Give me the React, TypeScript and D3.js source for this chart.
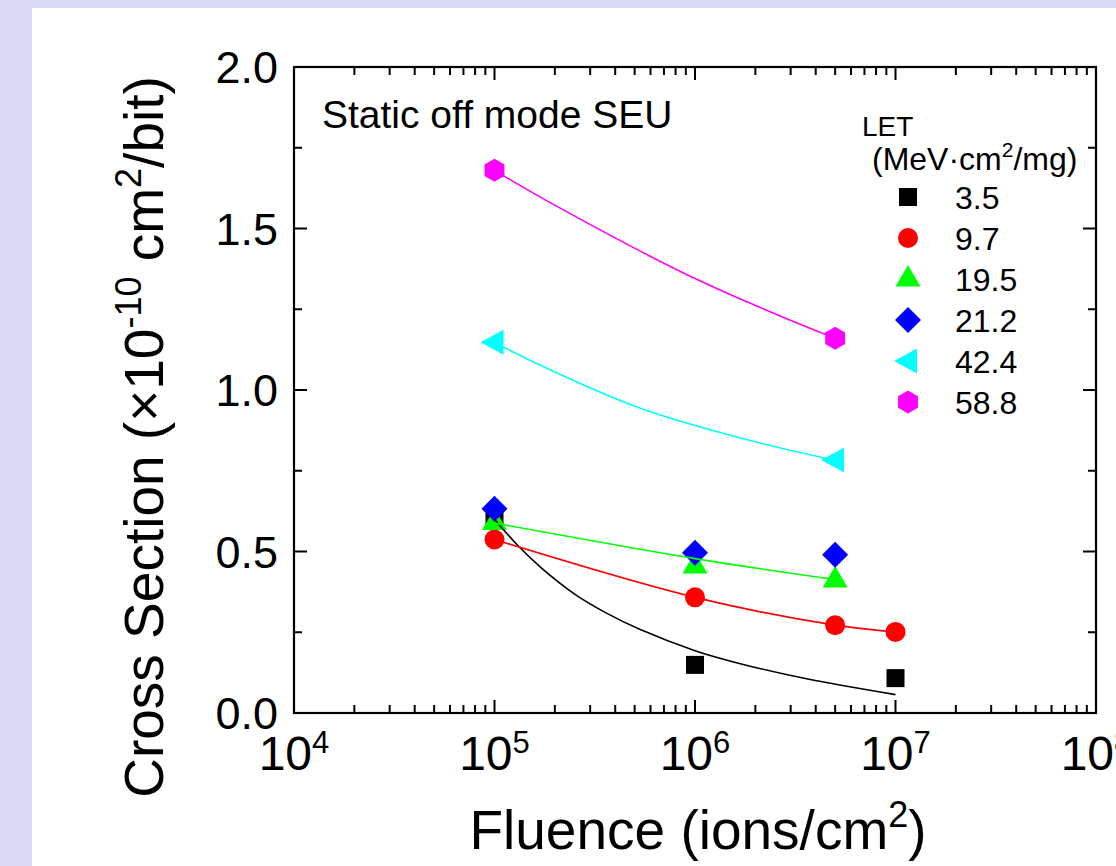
import React from "react";
import * as d3 from "d3";

const W = 1116;
const H = 866;
const FONT = "'Liberation Sans', Arial, Helvetica, sans-serif";

// ---- axis ticks ----
const xDomain = [1e4, 1e8];
const yDomain = [0, 2.0];
const xMajorTicks = [1e4, 1e5, 1e6, 1e7, 1e8];
const xTickExponents = ["4", "5", "6", "7", "8"];
const yMajorTicks = [0, 0.5, 1.0, 1.5, 2.0];
const yMinorTicks = [0.25, 0.75, 1.25, 1.75];

// ---- series ----
const letLabels = ["3.5", "9.7", "19.5", "21.2", "42.4", "58.8"];
const seriesColors = ["#000000", "#ff0000", "#00ff00", "#0000ff", "#00ffff", "#ff00ff"];
const seriesShapes = ["square", "circle", "triangle", "diamond", "triangleLeft", "hexagon"];

const fluence35 = [1e5, 1e6, 1e7];
const cs35 = [0.598, 0.149, 0.108];
const fluence97 = [1e5, 1e6, 5e6, 1e7];
const cs97 = [0.537, 0.358, 0.272, 0.251];
const fluence195 = [1e5, 1e6, 5e6];
const cs195 = [0.59, 0.455, 0.412];
const fluence212 = [1e5, 1e6, 5e6];
const cs212 = [0.632, 0.496, 0.49];
const fluence424 = [1e5, 5e6];
const cs424 = [1.148, 0.783];
const fluence588 = [1e5, 5e6];
const cs588 = [1.68, 1.16];

// ---- fitted curves ----
const fit35X = [1e5, 1.3e5, 1.7e5, 2.5e5, 3.6e5, 5.3e5, 1e6, 1.7e6, 3.6e6, 1e7];
const fit35Y = [0.6, 0.52, 0.451, 0.369, 0.31, 0.259, 0.193, 0.152, 0.106, 0.057];
const fit97X = [1e5, 1e6, 5e6, 1e7];
const fit97Y = [0.537, 0.358, 0.272, 0.251];
const fit195X = [1e5, 1e6, 5e6];
const fit195Y = [0.588, 0.478, 0.413];
const fit424X = [1e5, 1.5e5, 5.3e5, 1.67e6, 5e6];
const fit424Y = [1.148, 1.092, 0.944, 0.852, 0.782];
const fit588X = [1e5, 1.8e5, 1e6, 5e6];
const fit588Y = [1.68, 1.588, 1.345, 1.16];

const seriesX = [fluence35, fluence97, fluence195, fluence212, fluence424, fluence588];
const seriesY = [cs35, cs97, cs195, cs212, cs424, cs588];
const fitsX = [fit35X, fit97X, fit195X, null, fit424X, fit588X];
const fitsY = [fit35Y, fit97Y, fit195Y, null, fit424Y, fit588Y];

// ---- layout ----
const PL = 294;
const PR = 1096;
const PT = 67;
const PB = 713;

function markerPath(shape: string, cx: number, cy: number): string {
  const p = d3.path();
  if (shape === "square") {
    p.rect(cx - 9, cy - 9, 18, 18);
  } else if (shape === "circle") {
    p.arc(cx, cy, 10, 0, Math.PI * 2);
  } else if (shape === "triangle") {
    p.moveTo(cx, cy - 14);
    p.lineTo(cx + 12.5, cy + 7.5);
    p.lineTo(cx - 12.5, cy + 7.5);
    p.closePath();
  } else if (shape === "diamond") {
    p.moveTo(cx, cy - 13);
    p.lineTo(cx + 13, cy);
    p.lineTo(cx, cy + 13);
    p.lineTo(cx - 13, cy);
    p.closePath();
  } else if (shape === "triangleLeft") {
    p.moveTo(cx - 14, cy);
    p.lineTo(cx + 9, cy - 12.5);
    p.lineTo(cx + 9, cy + 12.5);
    p.closePath();
  } else if (shape === "hexagon") {
    const r = 11.5;
    for (let k = 0; k < 6; k++) {
      const a = -Math.PI / 2 + (k * Math.PI) / 3;
      const px = cx + r * Math.cos(a);
      const py = cy + r * Math.sin(a);
      if (k === 0) p.moveTo(px, py);
      else p.lineTo(px, py);
    }
    p.closePath();
  }
  return p.toString();
}

export default function App() {
  const x = d3.scaleLog().domain(xDomain).range([PL, PR]);
  const y = d3.scaleLinear().domain(yDomain).range([PB, PT]);
  const allXTicks = x.ticks();
  const xMinor = allXTicks.filter((t) => !xMajorTicks.some((m) => Math.abs(m - t) / m < 1e-9));
  const fmt = d3.format(".1f");

  const line = d3
    .line<[number, number]>()
    .x((d) => x(d[0]))
    .y((d) => y(d[1]))
    .curve(d3.curveCatmullRom.alpha(0.5));

  const MAJ = 13;
  const MIN = 8;
  const axisColor = "#000";

  return (
    <div style={{ position: "absolute", left: 0, top: 0 }}>
      <svg width={W} height={H} style={{ display: "block" }}>
        <rect x={0} y={0} width={W} height={H} fill="#d8d8f3" />
        <rect x={32} y={8} width={W - 32} height={H - 8} fill="#ffffff" />

        {/* ticks */}
        <g stroke={axisColor} strokeWidth={2}>
          {xMajorTicks.map((t, i) => (
            <g key={"xM" + i}>
              <line x1={x(t)} x2={x(t)} y1={PB} y2={PB - MAJ} />
              <line x1={x(t)} x2={x(t)} y1={PT} y2={PT + MAJ} />
            </g>
          ))}
          {xMinor.map((t, i) => (
            <g key={"xm" + i}>
              <line x1={x(t)} x2={x(t)} y1={PB} y2={PB - MIN} />
              <line x1={x(t)} x2={x(t)} y1={PT} y2={PT + MIN} />
            </g>
          ))}
          {yMajorTicks.map((t, i) => (
            <g key={"yM" + i}>
              <line x1={PL} x2={PL + MAJ} y1={y(t)} y2={y(t)} />
              <line x1={PR} x2={PR - MAJ} y1={y(t)} y2={y(t)} />
            </g>
          ))}
          {yMinorTicks.map((t, i) => (
            <g key={"ym" + i}>
              <line x1={PL} x2={PL + MIN} y1={y(t)} y2={y(t)} />
              <line x1={PR} x2={PR - MIN} y1={y(t)} y2={y(t)} />
            </g>
          ))}
        </g>

        {/* frame */}
        <rect
          x={PL}
          y={PT}
          width={PR - PL}
          height={PB - PT}
          fill="none"
          stroke={axisColor}
          strokeWidth={2.2}
        />

        {/* y tick labels */}
        {yMajorTicks.map((t, i) => (
          <text
            key={"yl" + i}
            x={PL - 16}
            y={y(t) + 16}
            textAnchor="end"
            fontFamily={FONT}
            fontSize={45}
            fill="#000"
          >
            {fmt(t)}
          </text>
        ))}

        {/* x tick labels */}
        {xMajorTicks.map((t, i) => (
          <text
            key={"xl" + i}
            x={x(t)}
            y={770}
            textAnchor="middle"
            fontFamily={FONT}
            fontSize={48}
            fill="#000"
          >
            10
            <tspan fontSize={31} dy={-17}>
              {xTickExponents[i]}
            </tspan>
          </text>
        ))}

        {/* axis titles */}
        <text
          x={698}
          y={849}
          textAnchor="middle"
          fontFamily={FONT}
          fontSize={55}
          fill="#000"
        >
          Fluence (ions/cm
          <tspan fontSize={36} dy={-22}>2</tspan>
          <tspan dy={22}>)</tspan>
        </text>
        <text
          transform={`translate(163, 437) rotate(-90)`}
          textAnchor="middle"
          fontFamily={FONT}
          fontSize={55}
          fill="#000"
        >
          Cross Section (×10
          <tspan fontSize={36} dy={-22}>-10</tspan>
          <tspan dy={22}> cm</tspan>
          <tspan fontSize={36} dy={-22}>2</tspan>
          <tspan dy={22}>/bit)</tspan>
        </text>

        {/* annotation */}
        <text x={322} y={128} fontFamily={FONT} fontSize={39} fill="#000">
          Static off mode SEU
        </text>

        {/* markers */}
        {seriesX.map((xs, si) =>
          xs.map((xv, j) => (
            <path
              key={"m" + si + "_" + j}
              d={markerPath(seriesShapes[si], x(xv), y(seriesY[si][j]))}
              fill={seriesColors[si]}
            />
          ))
        )}

        {/* fit curves */}
        {fitsX.map((fx, si) => {
          if (!fx) return null;
          const fy = fitsY[si] as number[];
          const pts = fx.map((v, k) => [v, fy[k]] as [number, number]);
          return (
            <path
              key={"f" + si}
              d={line(pts) || ""}
              fill="none"
              stroke={seriesColors[si]}
              strokeWidth={1.6}
            />
          );
        })}

        {/* legend */}
        <text x={862} y={136} fontFamily={FONT} fontSize={28} fill="#000">
          LET
        </text>
        <text x={872} y={170} fontFamily={FONT} fontSize={32} fill="#000">
          (MeV·cm
          <tspan fontSize={21} dy={-13}>2</tspan>
          <tspan dy={13}>/mg)</tspan>
        </text>
        {letLabels.map((lab, i) => {
          const cy = 197 + 41 * i;
          return (
            <g key={"lg" + i}>
              <path d={markerPath(seriesShapes[i], 908, cy)} fill={seriesColors[i]} />
              <text x={955} y={cy + 12} fontFamily={FONT} fontSize={32} fill="#000">
                {lab}
              </text>
            </g>
          );
        })}
      </svg>
    </div>
  );
}
